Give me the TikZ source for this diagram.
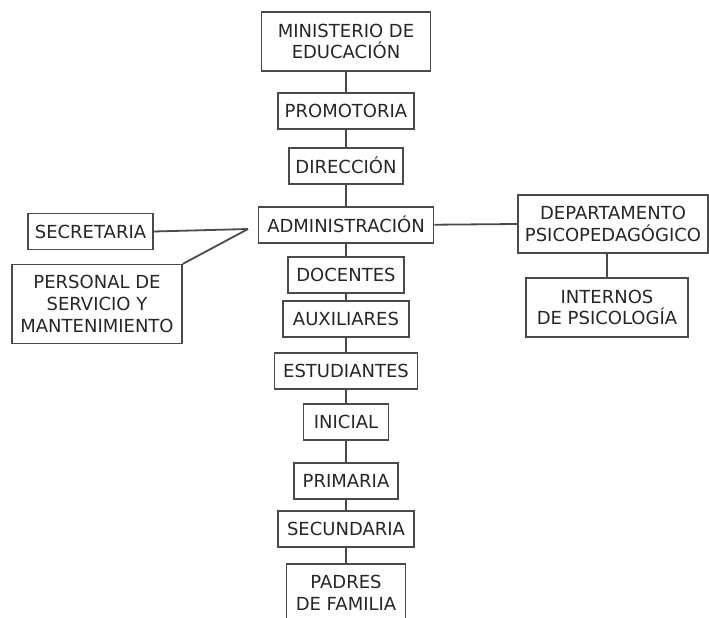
\documentclass[tikz,border=0pt]{standalone}
\usepackage{fontspec}
\setmainfont{DejaVu Sans}
\usetikzlibrary{matrix}
\definecolor{boxgray}{HTML}{4A4A4A}
\definecolor{textgray}{HTML}{262626}

\begin{document}
\begin{tikzpicture}[x=1pt,y=1pt,
  unit/.style={draw=boxgray, line width=1.6pt, text=textgray, font=\fontsize{18}{21.7}\selectfont,
    align=center, inner xsep=4pt, inner ysep=9pt, minimum height=36pt, anchor=center},
  tall/.style={inner ysep=11.6pt},
  link/.style={draw=boxgray, line width=1.8pt}]
\useasboundingbox (0,0) rectangle (709,-618);
\clip (0,0) rectangle (709,-618);
\matrix (m)[row sep=20.4pt, inner sep=0pt, anchor=north] at (346,-11.2) {
\node[unit, tall, minimum width=169pt] (min) {MINISTERIO DE\\EDUCACIÓN}; \\
\node[unit, minimum width=136pt] (prom) {PROMOTORIA}; \\[-3pt]
\node[unit, minimum width=114pt] (dir) {DIRECCIÓN}; \\[1pt]
\node[unit, minimum width=175pt] (adm) {ADMINISTRACIÓN}; \\[-8pt]
\node[unit, minimum width=116pt] (doc) {DOCENTES}; \\[-14pt]
\node[unit, minimum width=126pt] (aux) {AUXILIARES}; \\[-6pt]
\node[unit, minimum width=143pt] (est) {ESTUDIANTES}; \\[-7pt]
\node[unit, minimum width=85pt] (ini) {INICIAL}; \\[1pt]
\node[unit, minimum width=104pt] (pri) {PRIMARIA}; \\[-10pt]
\node[unit, minimum width=136pt] (sec) {SECUNDARIA}; \\[-5pt]
\node[unit, tall, minimum width=119pt] (pad) {PADRES\\DE FAMILIA}; \\
};
\node[unit, minimum width=125pt] (secr) at (90.5,-231.5) {SECRETARIA};
\node[unit, tall, minimum width=170pt, inner ysep=10.8pt] (pers) at (97,-304) {PERSONAL DE\\SERVICIO Y\\MANTENIMIENTO};
\node[unit, tall, minimum width=190pt] (dep) at (613,-224) {DEPARTAMENTO\\PSICOPEDAGÓGICO};
\node[unit, tall, minimum width=162pt] (int) at (607,-307.5) {INTERNOS\\DE PSICOLOGÍA};
\coordinate (jn) at (248,-229);

\foreach \a/\b in {min/prom,prom/dir,dir/adm,adm/doc,doc/aux,aux/est,est/ini,ini/pri,pri/sec,sec/pad}
  \draw[link] (\a) -- (\b);
\draw[link] (secr.east) -- (jn);
\draw[link] (pers.north east) -- (jn);
\draw[link] (adm.east) -- (dep.west);
\draw[link] (int.north) -- (int.north |- dep.south);
\end{tikzpicture}
\end{document}
